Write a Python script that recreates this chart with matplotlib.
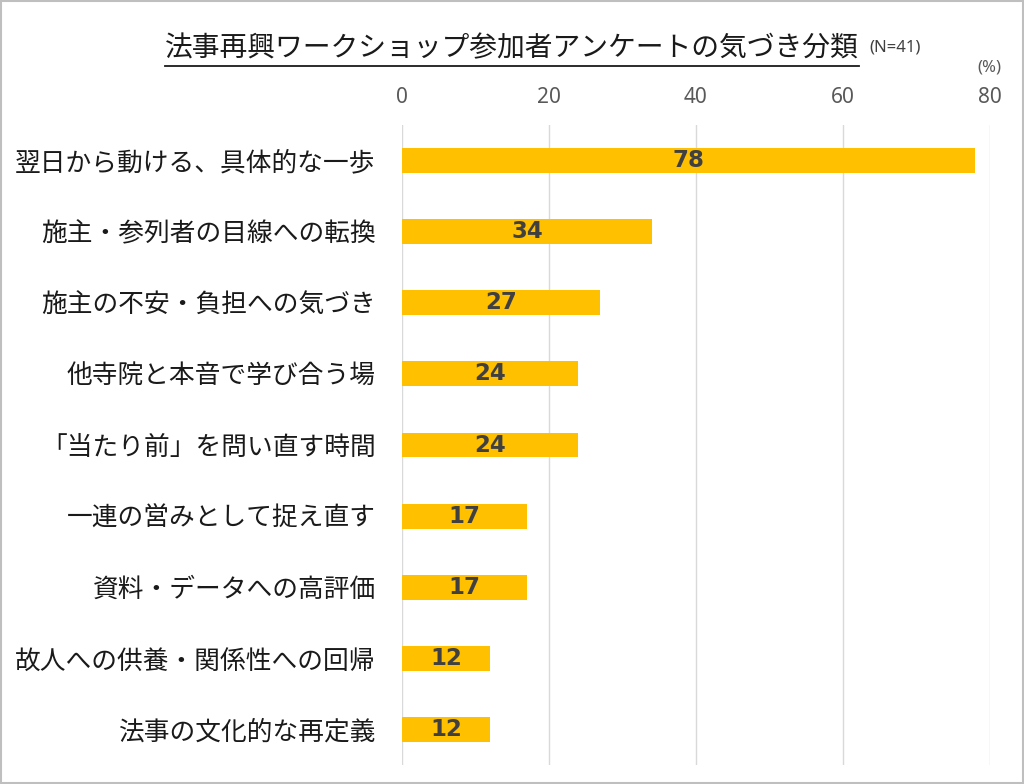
import matplotlib
matplotlib.use("Agg")
import matplotlib.pyplot as plt
from matplotlib.patches import Rectangle
from matplotlib.lines import Line2D

plt.rcParams['font.family'] = ['Noto Sans CJK JP', 'DejaVu Sans']

categories = ["翌日から動ける、具体的な一歩", "施主・参列者の目線への転換", "施主の不安・負担への気づき",
              "他寺院と本音で学び合う場", "「当たり前」を問い直す時間", "一連の営みとして捉え直す",
              "資料・データへの高評価", "故人への供養・関係性への回帰", "法事の文化的な再定義"]
values = [78, 34, 27, 24, 24, 17, 17, 12, 12]
xticks = [0, 20, 40, 60, 80]
title = "法事再興ワークショップ参加者アンケートの気づき分類"
subtitle = "(N=41)"

fig = plt.figure(figsize=(10.24, 7.84), dpi=100)
ax = fig.add_axes([402/1024, 1-765/784, 588/1024, 640/784])

y = list(range(len(categories)))
ax.barh(y, values, height=0.35, color="#FFC000", zorder=3)
for yi, v in zip(y, values):
    ax.text(v/2, yi, str(v), ha="center", va="center", fontsize=16.5, fontweight="bold",
            color="#404040", zorder=4, family=["DejaVu Sans"])

ax.set_xlim(0, 80)
ax.set_ylim(len(categories)-0.5, -0.5)
ax.set_xticks(xticks)
ax.set_xticklabels([str(v) for v in xticks], family=["Noto Sans", "DejaVu Sans"])
ax.xaxis.tick_top()
ax.tick_params(axis="x", length=0, labelsize=15, labelcolor="#595959", pad=12)
ax.set_yticks(y)
ax.set_yticklabels(categories, fontsize=18.5, color="#1a1a1a")
ax.tick_params(axis="y", length=0, pad=19)
ax.grid(axis="x", color="#d9d9d9", linewidth=1, zorder=0)
for s in ax.spines.values():
    s.set_visible(False)

fig.text(989/1024, 1-67/784, "(%)", ha="center", va="center", fontsize=12, color="#595959",
         family=["Noto Sans", "DejaVu Sans"])

t = fig.text(512/1024, 1-48/784, title, ha="center", va="center", fontsize=20, color="#1a1a1a")
fig.canvas.draw()
bb = t.get_window_extent(fig.canvas.get_renderer())
inv = fig.transFigure.inverted()
(x0, y0), (x1, y1) = inv.transform([(bb.x0, bb.y0), (bb.x1, bb.y1)])
fig.add_artist(Line2D([x0, x1], [1-66/784, 1-66/784], color="#1a1a1a", linewidth=1.3,
                      transform=fig.transFigure))
fig.text(x1 + 10/1024, 1-48/784, subtitle, ha="left", va="center", fontsize=12, color="#404040",
         family=["Noto Sans", "DejaVu Sans"])

fig.add_artist(Rectangle((0.001, 0.001), 0.998, 0.998, transform=fig.transFigure,
                         fill=False, edgecolor="#bfbfbf", linewidth=1.5))

fig.savefig("out.png", dpi=100)
